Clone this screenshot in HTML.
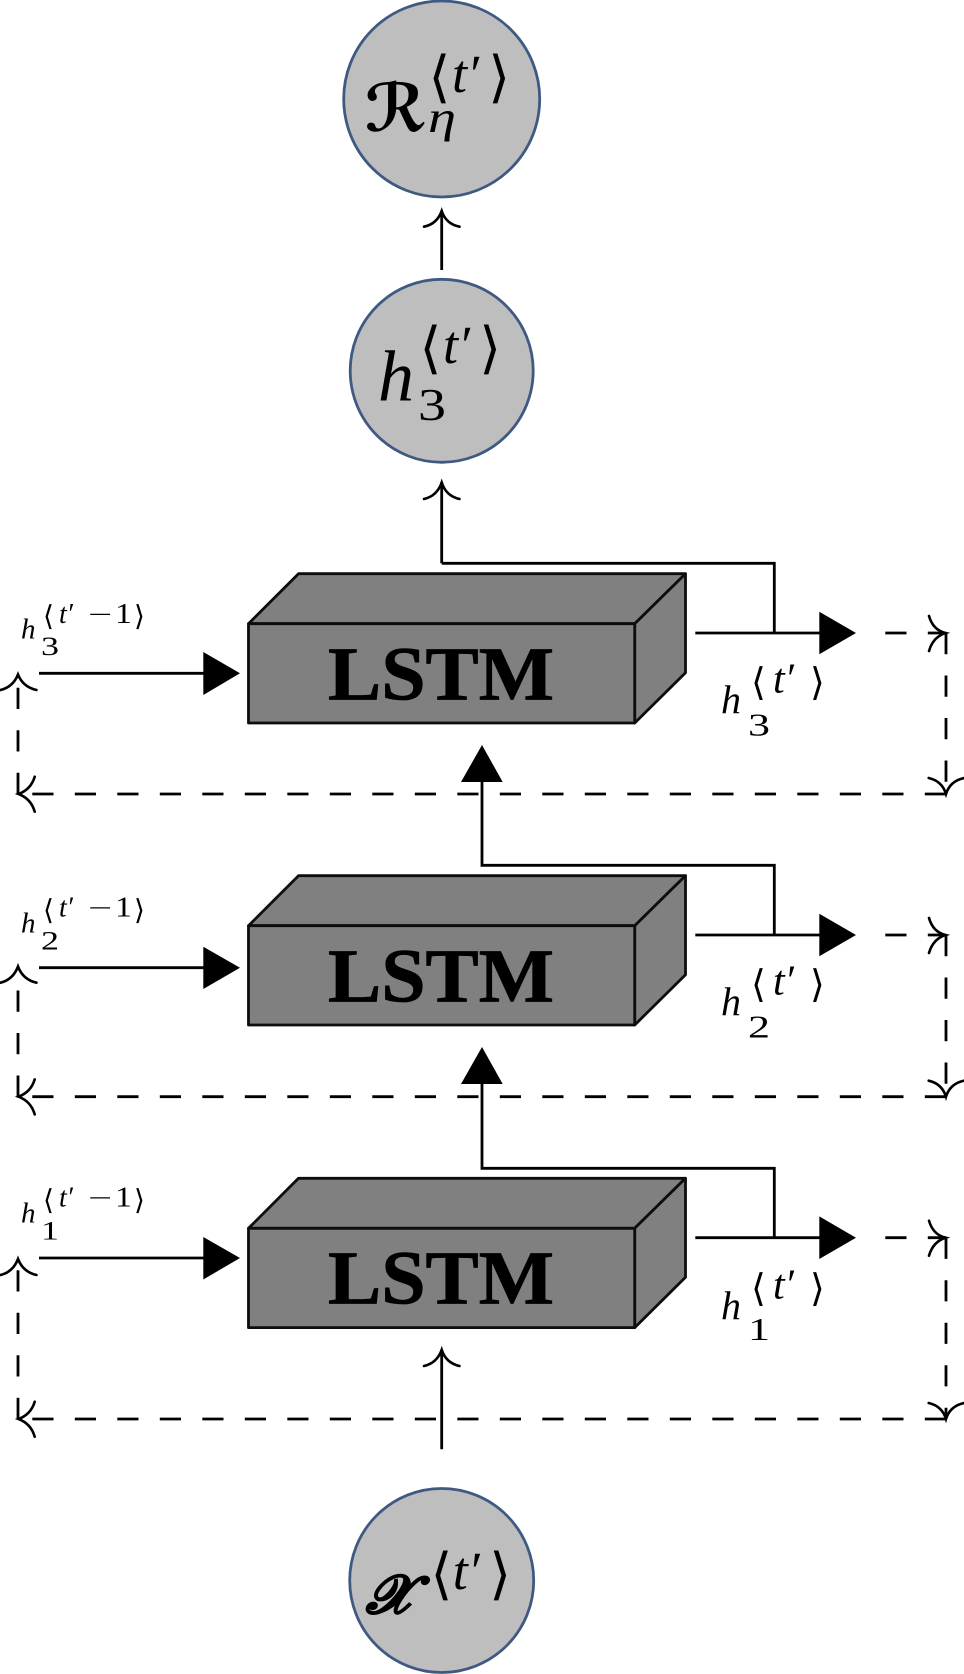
<!DOCTYPE html>
<html><head><meta charset="utf-8">
<style>
html,body{margin:0;padding:0;background:#fff;width:964px;height:1674px;overflow:hidden}
svg{display:block}
.c{fill:#bebebe;stroke:#3f5a82;stroke-width:2.8}
.b{fill:#808080;stroke:#0d0d0d;stroke-width:2.8;stroke-linejoin:round}
.l{fill:none;stroke:#000;stroke-width:2.8}
.d{fill:none;stroke:#000;stroke-width:2.8;stroke-dasharray:21.2 21.3}
.h{fill:none;stroke:#000;stroke-width:2.6;stroke-linecap:round}
.t{fill:#000;stroke:none}
text{fill:#000}
.i{font-family:"Liberation Serif",serif;font-style:italic}
.r{font-family:"Liberation Serif",serif}
.a{font-family:"DejaVu Sans",sans-serif}
.s{font-family:"DejaVu Serif","DejaVu Sans",serif;font-style:italic;font-weight:bold}
.k{stroke:#000;stroke-width:1.3px}
.L{font-family:"Liberation Serif",serif;font-weight:bold;font-size:76px;stroke:#000;stroke-width:.8px}
</style></head><body>
<svg width="964" height="1674" viewBox="0 0 964 1674" xmlns="http://www.w3.org/2000/svg">
<!-- circles -->
<circle class="c" cx="441.7" cy="99" r="98"/>
<circle class="c" cx="441.7" cy="370.8" r="91.5"/>
<circle class="c" cx="441.7" cy="1580.5" r="92"/>

<!-- boxes -->
<g>
<path class="b" d="M248.5 623.7L298.5 573.7H685.5L634.7 623.7Z"/>
<path class="b" d="M634.7 623.7L685.5 573.7V672.7L634.7 723Z"/>
<rect class="b" x="248.5" y="623.7" width="386.2" height="99.3"/>
</g>
<g>
<path class="b" d="M248.5 925.7L298.5 875.7H685.5L634.7 925.7Z"/>
<path class="b" d="M634.7 925.7L685.5 875.7V974.7L634.7 1025Z"/>
<rect class="b" x="248.5" y="925.7" width="386.2" height="99.3"/>
</g>
<g>
<path class="b" d="M248.5 1228.3L298.5 1178.3H685.5L634.7 1228.3Z"/>
<path class="b" d="M634.7 1228.3L685.5 1178.3V1277.3L634.7 1327.6Z"/>
<rect class="b" x="248.5" y="1228.3" width="386.2" height="99.3"/>
</g>
<text class="L" x="328" y="699.3" textLength="226" lengthAdjust="spacingAndGlyphs">LSTM</text>
<text class="L" x="328" y="1001.7" textLength="226" lengthAdjust="spacingAndGlyphs">LSTM</text>
<text class="L" x="328" y="1303.3" textLength="226" lengthAdjust="spacingAndGlyphs">LSTM</text>

<!-- top arrows -->
<path class="l" d="M441.7 270V211"/>
<path class="h" d="M424 226.7Q437 224 441.7 211Q446 224 459.5 226.7"/>
<path class="l" d="M441.7 563.3V482M441.7 563.3H774.3V633"/>
<path class="h" d="M424 499Q437 496 441.7 482.5Q446 496 459.5 499"/>
<path class="l" d="M695.3 633H822"/>
<path class="t" d="M819.3 611.7L856 633L819.3 654.3Z"/>

<!-- level 3 dashes -->
<path class="d" d="M885.3 633H946"/>
<path class="h" d="M929 616Q933 630 945.5 633Q933 637 929 651"/>
<path class="d" d="M946 633V794"/>
<path class="h" d="M928.7 778Q942 781 946 794Q950 781 964 778"/>
<path class="d" d="M946 794H18"/>
<path class="h" d="M34.7 776.7Q31 789.3 18.5 794Q31 798.7 34.7 811.7"/>
<path class="d" d="M18 794V675"/>
<path class="h" d="M0.5 690Q13 687 18 674.5Q23 687 36.5 690"/>
<path class="l" d="M39 673.3H206"/>
<path class="t" d="M203.3 652L240 673.3L203.3 695Z"/>

<!-- mid connector 2->3 -->
<path class="l" d="M482 782V865.3H774.3V935"/>
<path class="t" d="M482 745L502.7 782H461Z"/>
<path class="l" d="M695.3 935H822"/>
<path class="t" d="M819.3 913.7L856 935L819.3 956.3Z"/>

<!-- level 2 dashes -->
<path class="d" d="M885.3 935H946"/>
<path class="h" d="M929 918Q933 932 945.5 935Q933 939 929 953"/>
<path class="d" d="M946 935V1096.7"/>
<path class="h" d="M928.7 1080.7Q942 1083.7 946 1096.7Q950 1083.7 964 1080.7"/>
<path class="d" d="M946 1096.7H18"/>
<path class="h" d="M34.7 1079.4Q31 1092 18.5 1096.7Q31 1101.4 34.7 1114.4"/>
<path class="d" d="M18 1096.7V977"/>
<path class="h" d="M0.5 982.7Q13 979.7 18 966.5Q23 979.7 36.5 982.7"/>
<path class="l" d="M39 967.7H206"/>
<path class="t" d="M203.3 946.7L240 967.7L203.3 989Z"/>

<!-- connector 1->2 -->
<path class="l" d="M482 1084V1168.3H774.3V1237.7"/>
<path class="t" d="M482 1047L502.7 1084H461Z"/>
<path class="l" d="M695.3 1237.7H822"/>
<path class="t" d="M819.3 1216.4L856 1237.7L819.3 1259Z"/>

<!-- level 1 dashes -->
<path class="d" d="M885.3 1237.7H946"/>
<path class="h" d="M929 1220.7Q933 1234.7 945.5 1237.7Q933 1241.7 929 1255.7"/>
<path class="d" d="M946 1237.7V1419"/>
<path class="h" d="M928.7 1403Q942 1406 946 1419Q950 1406 964 1403"/>
<path class="d" d="M946 1419H18"/>
<path class="h" d="M34.7 1401.7Q31 1414.3 18.5 1419Q31 1423.7 34.7 1436.7"/>
<path class="d" d="M18 1419V1260"/>
<path class="h" d="M0.5 1275Q13 1272 18 1259Q23 1272 36.5 1275"/>
<path class="l" d="M39 1258H206"/>
<path class="t" d="M203.3 1237L240 1258L203.3 1279.5Z"/>

<!-- bottom arrow -->
<path class="l" d="M441.7 1449.3V1350"/>
<path class="h" d="M424 1366Q437 1363 441.7 1349.8Q446 1363 459.5 1366"/>

<!-- circle 1 label -->
<text class="s" x="365" y="131" font-size="66">ℛ</text>
<text class="i" x="428" y="132" font-size="44" textLength="28" lengthAdjust="spacingAndGlyphs">η</text>
<text class="a" x="428.5" y="96" font-size="56">⟨</text>
<text class="i" x="452" y="92" font-size="54">t′</text>
<text class="a" x="488.3" y="96" font-size="56">⟩</text>

<!-- circle 2 label -->
<text class="i" x="378" y="400.7" font-size="72">h</text>
<text class="r" x="418" y="420" font-size="46" textLength="28" lengthAdjust="spacingAndGlyphs">3</text>
<text class="a" x="419.5" y="367" font-size="56">⟨</text>
<text class="i" x="443" y="363" font-size="54">t′</text>
<text class="a" x="479.3" y="367" font-size="56">⟩</text>

<!-- circle 3 label -->
<text class="s k" x="366" y="1613" font-size="54" textLength="48" lengthAdjust="spacingAndGlyphs">𝒳</text>
<text class="a" x="430.5" y="1593" font-size="56">⟨</text>
<text class="i" x="452.7" y="1589" font-size="54">t′</text>
<text class="a" x="489.3" y="1593" font-size="56">⟩</text>

<!-- right labels -->
<g>
<text class="i" x="721" y="713" font-size="40">h</text>
<text class="r" x="748" y="735.7" font-size="32" textLength="22" lengthAdjust="spacingAndGlyphs">3</text>
<text class="a" x="751" y="695" font-size="38">⟨</text>
<text class="i" x="773" y="692.7" font-size="42">t′</text>
<text class="a" x="810" y="695" font-size="38">⟩</text>
</g>
<g>
<text class="i" x="721" y="1015" font-size="40">h</text>
<text class="r" x="748" y="1037.7" font-size="32" textLength="22" lengthAdjust="spacingAndGlyphs">2</text>
<text class="a" x="751" y="997" font-size="38">⟨</text>
<text class="i" x="773" y="994.7" font-size="42">t′</text>
<text class="a" x="810" y="997" font-size="38">⟩</text>
</g>
<g>
<text class="i" x="721" y="1319" font-size="40">h</text>
<text class="r" x="748" y="1340" font-size="32" textLength="22" lengthAdjust="spacingAndGlyphs">1</text>
<text class="a" x="751" y="1301" font-size="38">⟨</text>
<text class="i" x="773" y="1298.7" font-size="42">t′</text>
<text class="a" x="810" y="1301" font-size="38">⟩</text>
</g>

<!-- left labels -->
<g>
<text class="i" x="21" y="638.3" font-size="29">h</text>
<text class="r" x="41" y="655" font-size="26" textLength="18" lengthAdjust="spacingAndGlyphs">3</text>
<text class="a" x="43" y="625.5" font-size="28">⟨</text>
<text class="i" x="59" y="623" font-size="28">t′</text>
<text class="r" x="88" y="623" font-size="26" textLength="24" lengthAdjust="spacingAndGlyphs">−</text>
<text class="r" x="115" y="623" font-size="28" textLength="17" lengthAdjust="spacingAndGlyphs">1</text>
<text class="a" x="134" y="625.5" font-size="28">⟩</text>
</g>
<g>
<text class="i" x="21" y="932.7" font-size="29">h</text>
<text class="r" x="41" y="949.3" font-size="26" textLength="18" lengthAdjust="spacingAndGlyphs">2</text>
<text class="a" x="43" y="919.5" font-size="28">⟨</text>
<text class="i" x="59" y="916.7" font-size="28">t′</text>
<text class="r" x="88" y="916.7" font-size="26" textLength="24" lengthAdjust="spacingAndGlyphs">−</text>
<text class="r" x="115" y="916.7" font-size="28" textLength="17" lengthAdjust="spacingAndGlyphs">1</text>
<text class="a" x="134" y="919.5" font-size="28">⟩</text>
</g>
<g>
<text class="i" x="21" y="1222.7" font-size="29">h</text>
<text class="r" x="41" y="1239.3" font-size="26" textLength="18" lengthAdjust="spacingAndGlyphs">1</text>
<text class="a" x="43" y="1209.5" font-size="28">⟨</text>
<text class="i" x="59" y="1206.7" font-size="28">t′</text>
<text class="r" x="88" y="1206.7" font-size="26" textLength="24" lengthAdjust="spacingAndGlyphs">−</text>
<text class="r" x="115" y="1206.7" font-size="28" textLength="17" lengthAdjust="spacingAndGlyphs">1</text>
<text class="a" x="134" y="1209.5" font-size="28">⟩</text>
</g>
</svg>
</body></html>
